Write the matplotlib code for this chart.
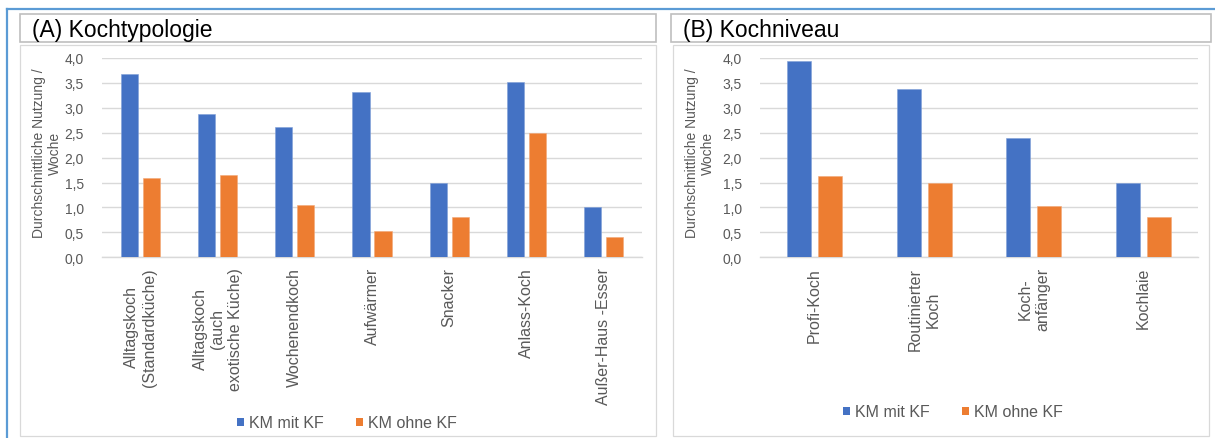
import matplotlib
matplotlib.use("Agg")
import matplotlib.pyplot as plt
from matplotlib.patches import Rectangle, Patch
from matplotlib.lines import Line2D
from matplotlib.ticker import FuncFormatter, MultipleLocator
import numpy as np

plt.rcParams["font.family"] = ["Liberation Sans", "DejaVu Sans"]

# ---- data -------------------------------------------------------------
typ_categories = [
    "Alltagskoch\n(Standardküche)",
    "Alltagskoch\n(auch\nexotische Küche)",
    "Wochenendkoch",
    "Aufwärmer",
    "Snacker",
    "Anlass-Koch",
    "Außer-Haus -Esser",
]
typ_mit_kf = [3.67, 2.88, 2.62, 3.31, 1.50, 3.51, 1.00]
typ_ohne_kf = [1.59, 1.65, 1.04, 0.52, 0.80, 2.50, 0.41]

niveau_categories = ["Profi-Koch", "Routinierter\nKoch", "Koch-\nanfänger", "Kochlaie"]
niveau_mit_kf = [3.94, 3.37, 2.39, 1.50]
niveau_ohne_kf = [1.64, 1.49, 1.02, 0.80]

series_names = ["KM mit KF", "KM ohne KF"]
panel_titles = ["(A) Kochtypologie", "(B) Kochniveau"]
y_label = "Durchschnittliche Nutzung /\nWoche"

# ---- style ------------------------------------------------------------
BLUE = "#4472C4"
ORANGE = "#ED7D31"
GRID = "#D9D9D9"
TXT = "#595959"
FRAME_BLUE = "#5B9BD5"

W, H = 1215, 439
fig = plt.figure(figsize=(W / 100, H / 100), dpi=100)


def fx(px):
    return px / W


def fy(py):
    return 1 - py / H


def box(x0, y0, x1, y1, color, lw):
    fig.add_artist(Rectangle((fx(x0), fy(y1)), fx(x1) - fx(x0), fy(y0) - fy(y1),
                             transform=fig.transFigure, fill=False,
                             edgecolor=color, linewidth=lw))


# outer frame (blue top and left edge)
fig.add_artist(Line2D([fx(7), fx(W)], [fy(10), fy(10)], transform=fig.transFigure,
                      color=FRAME_BLUE, lw=1.6))
fig.add_artist(Line2D([fx(7), fx(7)], [fy(10), fy(H)], transform=fig.transFigure,
                      color=FRAME_BLUE, lw=1.6))

# panel boxes
box(20, 15, 656, 43, "#BFBFBF", 1.2)
box(20, 46, 656, 437, GRID, 0.9)
box(671, 15, 1211, 43, "#BFBFBF", 1.2)
box(673, 46, 1209, 437, GRID, 0.9)

fig.text(fx(32), fy(30), panel_titles[0], fontsize=16.5, color="black",
         ha="left", va="center")
fig.text(fx(683), fy(30), panel_titles[1], fontsize=16.5, color="black",
         ha="left", va="center")


def draw_panel(x0, x1, cats, mit, ohne, ylab_x, legend_xy):
    ax = fig.add_axes([fx(x0), fy(258.3), fx(x1) - fx(x0), (258.3 - 59) / H])
    x = np.arange(len(cats))
    w = 0.222
    off = 0.142
    ax.bar(x - off, mit, width=w, color=BLUE, edgecolor="#7F9FD8", linewidth=0.4,
           zorder=3, label=series_names[0])
    ax.bar(x + off, ohne, width=w, color=ORANGE, edgecolor="#F3A877", linewidth=0.4,
           zorder=3, label=series_names[1])
    ax.set_xlim(-0.5, len(cats) - 0.5)
    ax.set_ylim(0, 4.0)
    ax.yaxis.set_major_locator(MultipleLocator(0.5))
    ax.yaxis.set_major_formatter(FuncFormatter(lambda v, p: f"{v:.1f}".replace(".", ",")))
    ax.grid(axis="y", color=GRID, linewidth=1.0, zorder=0)
    for s in ["top", "right", "left"]:
        ax.spines[s].set_visible(False)
    ax.spines["bottom"].set_color(GRID)
    ax.spines["bottom"].set_linewidth(1.0)
    ax.tick_params(axis="y", length=0, pad=13, labelsize=10, labelcolor=TXT)
    ax.tick_params(axis="x", length=0, pad=7, labelsize=11.5, labelcolor=TXT)
    ax.set_xticks(x)
    ax.set_xticklabels(cats, rotation=90, ha="center", va="top",
                       multialignment="center")
    ax.patch.set_alpha(0)
    fig.text(fx(ylab_x), fy(153), y_label, rotation=90, fontsize=10, color=TXT,
             ha="center", va="center", multialignment="center", linespacing=1.25)
    handles = [Patch(facecolor=BLUE), Patch(facecolor=ORANGE)]
    fig.legend(handles, series_names, loc="center",
               bbox_to_anchor=(fx(legend_xy[0]), fy(legend_xy[1])),
               ncol=2, frameon=False, fontsize=11.5, labelcolor=TXT,
               handlelength=0.45, handleheight=0.45, handletextpad=0.3,
               columnspacing=2.0, borderaxespad=0)
    return ax


draw_panel(102, 642, typ_categories, typ_mit_kf, typ_ohne_kf, 47, (347, 424))
draw_panel(760, 1198, niveau_categories, niveau_mit_kf, niveau_ohne_kf, 700, (953, 413))

fig.savefig("out.png", dpi=100, facecolor="white")
